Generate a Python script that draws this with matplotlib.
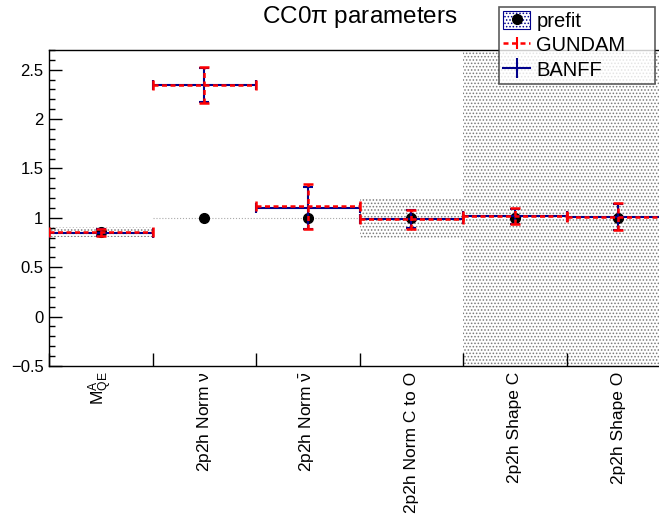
import matplotlib
matplotlib.use("Agg")
from matplotlib import pyplot as plt
from matplotlib.patches import Patch
from matplotlib.lines import Line2D
import numpy as np

plt.rcParams['font.family'] = ['Liberation Sans', 'DejaVu Sans']
plt.rcParams['mathtext.fontset'] = 'custom'
plt.rcParams['mathtext.rm'] = 'Liberation Sans'
plt.rcParams['mathtext.it'] = 'Liberation Sans:italic'
plt.rcParams['mathtext.default'] = 'regular'
plt.rcParams['hatch.linewidth'] = 0.7
plt.rcParams['hatch.color'] = '#7a7a7a'

labels = [r"$M_{QE}^{A}$", r"2p2h Norm $\nu$", r"2p2h Norm $\bar{\nu}$",
          "2p2h Norm C to O", "2p2h Shape C", "2p2h Shape O"]
prefit = [0.857, 1.0, 1.0, 1.0, 1.0, 1.0]
prefit_err = [0.048, 0.0, 0.0, 0.2, 3.0, 3.0]
banff = [0.85, 2.345, 1.10, 0.985, 1.015, 1.01]
banff_err = [0.035, 0.175, 0.215, 0.09, 0.075, 0.135]
gundam = [0.852, 2.345, 1.115, 0.985, 1.015, 1.012]
gundam_err = [0.037, 0.18, 0.23, 0.095, 0.08, 0.14]

x = np.arange(len(labels))

fig = plt.figure(figsize=(6.59, 5.22), dpi=100)
ax = fig.add_axes([0.0744, 0.2989, 0.9423, 0.6054])

# prefit error boxes
for i in x:
    if prefit_err[i] > 0:
        ax.bar(i, 2 * prefit_err[i], bottom=prefit[i] - prefit_err[i], width=1.0,
               color='none', edgecolor='#7a7a7a', hatch='.....', linewidth=0, zorder=1)
    else:
        ax.hlines(prefit[i], i - 0.5, i + 0.5, colors='#aaaaaa', linestyles=':',
                  linewidth=0.8, zorder=1)
ax.plot(x, prefit, 'o', color='black', markersize=7, zorder=2)

eb_b = ax.errorbar(x, banff, yerr=banff_err, xerr=0.5, fmt='none', ecolor='#00008b',
                   elinewidth=1.5, capsize=3.6, capthick=1.5, zorder=3)
eb_g = ax.errorbar(x, gundam, yerr=gundam_err, xerr=0.5, fmt='none', ecolor='red',
                   elinewidth=1.8, capsize=3.6, capthick=1.8, zorder=4)
for c in eb_g[2]:
    c.set_linestyle((0, (2.0, 1.4)))

ax.set_xlim(-0.5, 5.5)
ax.set_ylim(-0.5, 2.7)
ax.set_xticks(x)
ax.set_xticklabels(labels, rotation=90, fontsize=12.5, va='top')
ax.set_xticks(np.arange(-0.5, 6.0, 1.0), minor=True)
ax.tick_params(axis='x', which='major', length=0, pad=4)
ax.tick_params(axis='x', which='minor', direction='in', length=9.4, width=1)
ax.set_yticks(np.arange(-0.5, 2.6, 0.5))
ax.set_yticklabels(["\u22120.5", "0", "0.5", "1", "1.5", "2", "2.5"], fontsize=12)
ax.set_yticks(np.arange(-0.5, 2.71, 0.1), minor=True)
ax.tick_params(axis='y', which='major', direction='in', length=9.4, width=1, pad=4)
ax.tick_params(axis='y', which='minor', direction='in', length=4.5, width=1)
for s in ax.spines.values():
    s.set_linewidth(1)

fig.text(0.546, 0.967, r"CC0$\pi$ parameters", ha='center', va='center', fontsize=17.5)

h_pre = (Patch(facecolor='white', edgecolor='#00008b', hatch='.....', linewidth=0.8),
         Line2D([], [], marker='o', color='black', linestyle='none', markersize=7))
h_g = Line2D([], [], color='red', linestyle=(0, (2.0, 1.4)), linewidth=1.8,
             marker='|', markersize=9, markeredgewidth=1.5)
h_b = Line2D([], [], color='#00008b', linewidth=1.5,
             marker='|', markersize=14, markeredgewidth=1.5)
leg = fig.legend([h_pre, h_g, h_b], ["prefit", "GUNDAM", "BANFF"],
                 loc='upper left', bbox_to_anchor=(499 / 659, 441 / 522, 156 / 659, 74 / 522),
                 mode='expand', borderaxespad=0, fontsize=14.5,
                 frameon=True, fancybox=False, edgecolor='#333333', handlelength=1.35,
                 handleheight=1.0, handletextpad=0.3, borderpad=0.2, labelspacing=0.22)
leg.get_frame().set_linewidth(1.2)

fig.savefig("out.png", dpi=100)
